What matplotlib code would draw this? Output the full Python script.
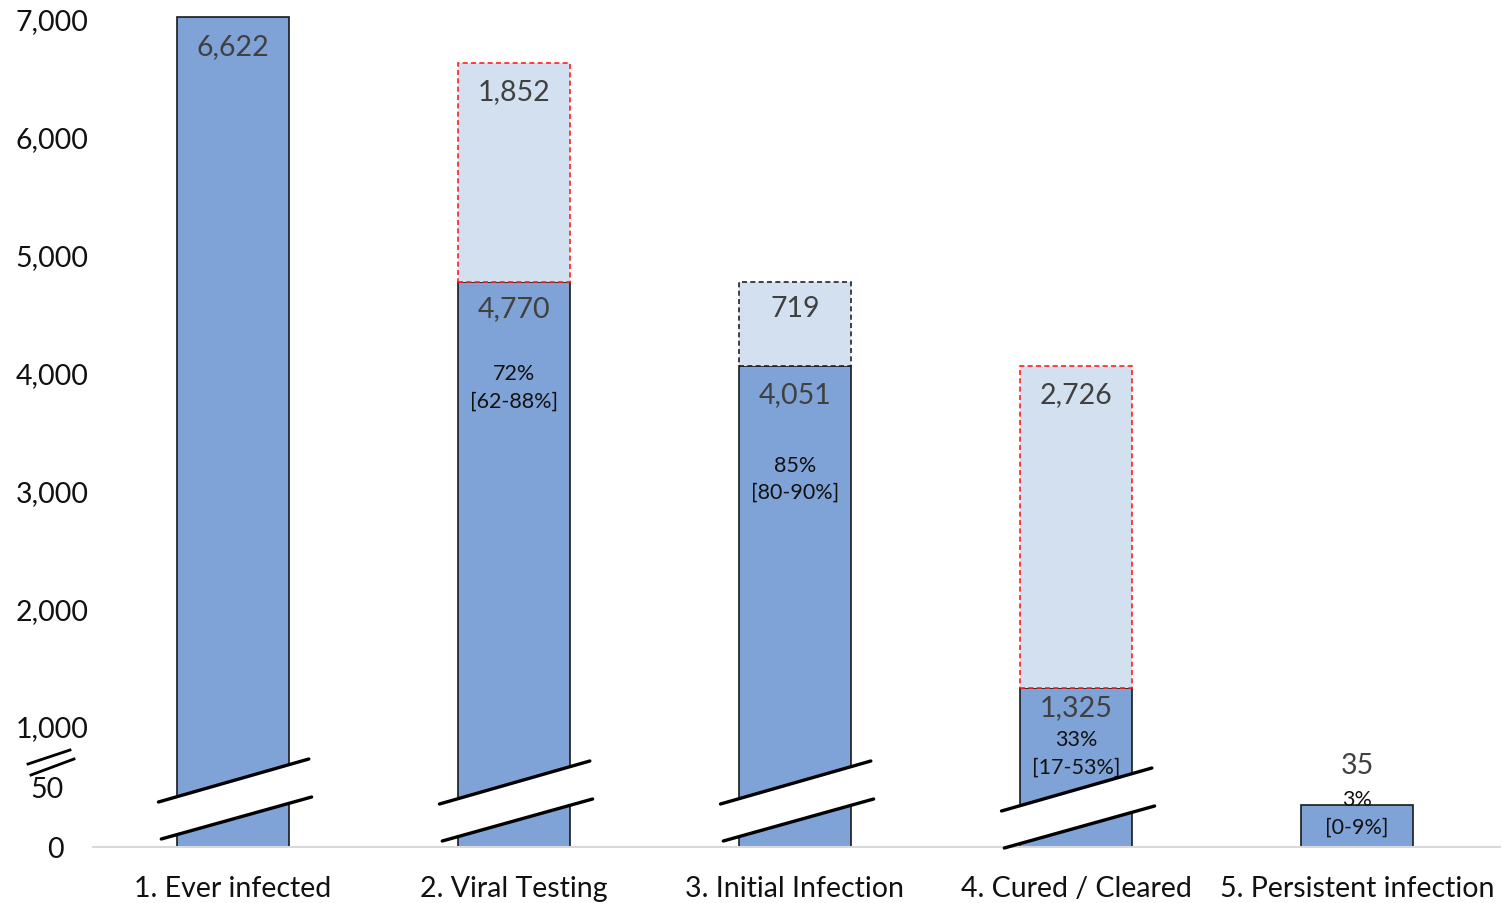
import numpy as np
import matplotlib
matplotlib.use("Agg")
import matplotlib.pyplot as plt
from matplotlib import transforms
from matplotlib.patches import Polygon
from matplotlib.lines import Line2D

plt.rcParams['font.family'] = ['Lato', 'DejaVu Sans']

# ---------------- data ----------------
categories = ["1. Ever infected", "2. Viral Testing", "3. Initial Infection",
              "4. Cured / Cleared", "5. Persistent infection"]
base_values = [7020, 4770, 4051, 1325, 35]        # solid (dark) segment heights as drawn
extra_values = [0, 1852, 719, 2726, 0]            # light dashed segment on top
top_labels = ["6,622", "1,852", "719", "2,726", "35"]
base_labels = [None, "4,770", "4,051", "1,325", None]
pct_labels = [None, "72%\n[62-88%]", "85%\n[80-90%]", "33%\n[17-53%]", "3%\n[0-9%]"]
ytick_values = [0, 50, 1000, 2000, 3000, 4000, 5000, 6000, 7000]
ytick_labels = ["0", "50", "1,000", "2,000", "3,000", "4,000", "5,000", "6,000", "7,000"]

# ---------------- styles ----------------
dark = "#7FA3D6"
light = "#D3E0F0"
extra_edge = [None, "#FF2020", "#222222", "#FF2020", None]
text_gray = "#404040"
big = 20.5
small = 15.5

# broken y scale: 0-50 | 50-1000 | 1000+
def fwd(v):
    v = np.asarray(v, dtype=float)
    return np.where(v <= 50, v * 1.2,
                    np.where(v <= 1000, 60 + (v - 50) * 61 / 950,
                             121 + (v - 1000) * 0.11783))

def inv(p):
    p = np.asarray(p, dtype=float)
    return np.where(p <= 60, p / 1.2,
                    np.where(p <= 121, 50 + (p - 60) * 950 / 61,
                             1000 + (p - 121) / 0.11783))

W, H = 1503, 904
fig = plt.figure(figsize=(W / 100, H / 100), dpi=100)
ax_left, ax_right, ax_bottom, ax_top = 93, 1500, 848, 14
ax = fig.add_axes([ax_left / W, 1 - ax_bottom / H, (ax_right - ax_left) / W, (ax_bottom - ax_top) / H])
ax.set_yscale('function', functions=(fwd, inv))
ax.set_ylim(0, 7050)
ax.set_xlim(-0.498, 4.509)

x = np.arange(len(categories))
bw = 0.4
ax.bar(x, base_values, width=bw, color=dark, edgecolor="#1a1a1a", linewidth=1.2, zorder=2)
for i in range(len(categories)):
    if extra_values[i] > 0:
        ax.bar(x[i], extra_values[i], bottom=base_values[i], width=bw, color=light,
               edgecolor=extra_edge[i], linewidth=1.2, linestyle=(0, (3, 2)), zorder=3)

# value labels
top_offsets = [-30, -28, -26, -28, 40]
base_offsets = [None, -26, -28, -19, None]
for i in range(len(categories)):
    total = base_values[i] + extra_values[i]
    ax.annotate(top_labels[i], (x[i], total), xytext=(0, top_offsets[i]), textcoords='offset pixels',
                ha='center', va='center', fontsize=big, color=text_gray, zorder=5)
    if base_labels[i]:
        ax.annotate(base_labels[i], (x[i], base_values[i]), xytext=(0, base_offsets[i]),
                    textcoords='offset pixels', ha='center', va='center', fontsize=big,
                    color=text_gray, zorder=5)

pct_offsets = [None, -105, -112, -65, -8]
for i in range(len(categories)):
    if pct_labels[i]:
        ax.annotate(pct_labels[i], (x[i], base_values[i]), xytext=(0, pct_offsets[i]),
                    textcoords='offset pixels', ha='center', va='center', fontsize=small,
                    color="#111111", linespacing=1.45, zorder=5)

# break marks on bars (x in data, y in axes fraction)
trans = transforms.blended_transform_factory(ax.transData, ax.transAxes)
ah = ax_bottom - ax_top
def yf(py):
    return (ax_bottom - py) / ah
break_shift = [-2, 0, 0, 7]
for i in range(4):
    s = break_shift[i]
    xl, xr = x[i] - 0.265, x[i] + 0.27
    tl, tr = 805 + s, 762 + s
    bl, br = 842 + s, 800 + s
    poly = Polygon([(xl, yf(tl)), (xr, yf(tr)), (xr + 0.01, yf(br)), (xl + 0.01, yf(bl))],
                   closed=True, facecolor='white', edgecolor='none', transform=trans,
                   zorder=6, clip_on=False)
    ax.add_patch(poly)
    ax.add_line(Line2D([xl, xr], [yf(tl), yf(tr)], color='black', lw=2.4, transform=trans,
                       zorder=7, clip_on=False, solid_capstyle='round'))
    ax.add_line(Line2D([xl + 0.01, xr + 0.01], [yf(bl), yf(br)], color='black', lw=2.4,
                       transform=trans, zorder=7, clip_on=False, solid_capstyle='round'))

# axis styling
for sp in ['left', 'right', 'top']:
    ax.spines[sp].set_visible(False)
ax.spines['bottom'].set_color('#D9D9D9')
ax.spines['bottom'].set_linewidth(1.5)
ax.set_yticks(ytick_values)
ax.set_yticklabels(ytick_labels)
ax.yaxis.set_minor_locator(matplotlib.ticker.NullLocator())
ax.tick_params(axis='y', length=0, pad=3, labelsize=big, labelcolor='#111111')
ax.set_xticks(x)
ax.set_xticklabels(categories)
ax.tick_params(axis='x', length=0, pad=20, labelsize=big, labelcolor='#111111')
for t in ax.yaxis.get_major_ticks()[:2]:
    t.set_pad(21)

# y-axis break mark
for (x0, y0, x1, y1) in [(28, 765, 70, 751), (31, 776, 74, 760)]:
    fig.add_artist(Line2D([x0 / W, x1 / W], [1 - y0 / H, 1 - y1 / H], color='black', lw=2,
                          transform=fig.transFigure))

fig.savefig("out.png", dpi=100)
